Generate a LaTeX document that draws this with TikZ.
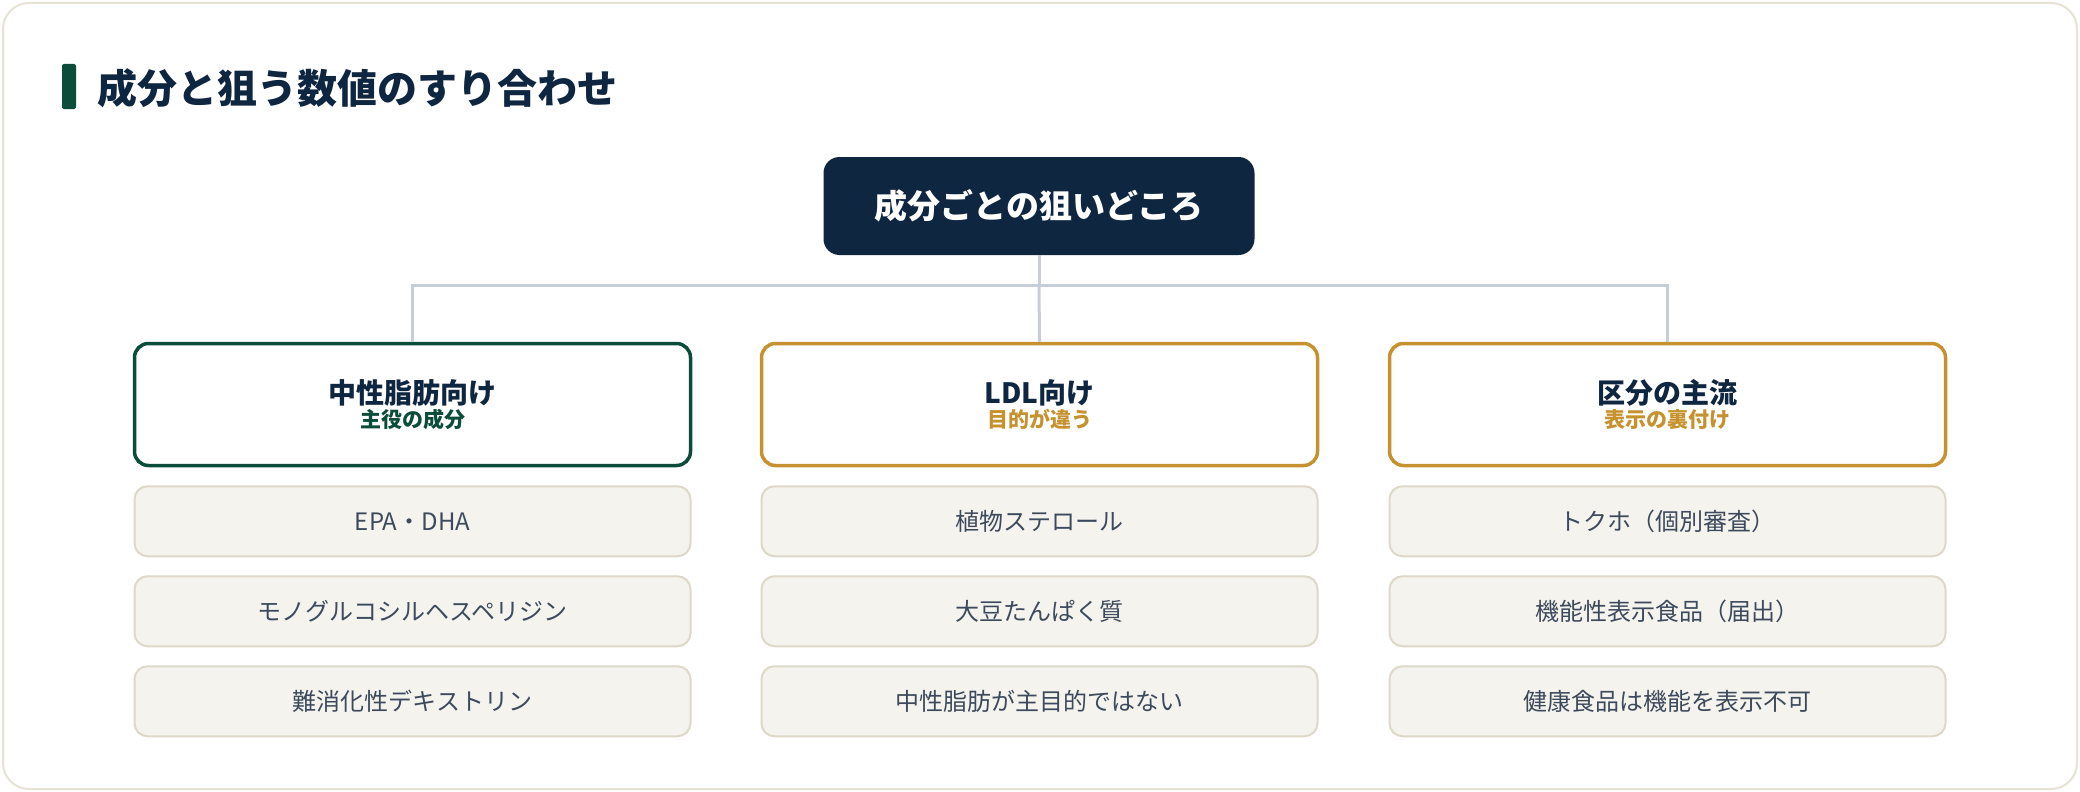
\documentclass[tikz,border=0pt]{standalone}
\usepackage{fontspec}
\setmainfont{Noto Sans CJK JP}
\usetikzlibrary{positioning}
\definecolor{navy}{HTML}{0F2640}
\definecolor{pine}{HTML}{0B4D3A}
\definecolor{gold}{HTML}{C69230}
\definecolor{itemfill}{HTML}{F5F3EE}
\definecolor{itemline}{HTML}{DDD8C8}
\definecolor{itemtext}{HTML}{3D4A5C}
\definecolor{wire}{HTML}{C8CED8}
\definecolor{frame}{HTML}{E6E3D6}
\begin{document}
\begin{tikzpicture}[x=1pt,y=-1pt,
    head/.style={draw=#1,line width=3.5pt,fill=white,rounded corners=14pt,
      minimum width=556pt,minimum height=122pt,align=center},
    item/.style={draw=itemline,line width=2pt,fill=itemfill,rounded corners=13pt,
      minimum width=556pt,minimum height=70pt,text=itemtext,font=\fontsize{24}{28}\selectfont},
    wireline/.style={draw=wire,line width=3pt}]
    \useasboundingbox (0,0) rectangle (2080,792);
    \draw[frame,line width=2pt,fill=white,rounded corners=26pt] (3,3) rectangle (2077,789);

    % title
    \fill[pine,rounded corners=2pt] (62,64) rectangle (76,109);
    \node[anchor=west,text=navy,font=\bfseries\fontsize{40}{46}\selectfont] (title) at (94,88) {成分と狙う数値のすり合わせ};

    % root
    \node[fill=navy,rounded corners=16pt,minimum width=431pt,minimum height=98pt,
      text=white,font=\bfseries\fontsize{33}{38}\selectfont] (root) at (1039,206) {成分ごとの狙いどころ};

    % headers
    \node[head=pine] (tg) at (412.5,404.5) {{\bfseries\fontsize{28}{34}\selectfont\color{navy}中性脂肪向け}\\[2pt]{\bfseries\fontsize{21}{26}\selectfont\color{pine}主役の成分}};
    \node[head=gold] (ldl) at (1039.5,404.5) {{\bfseries\fontsize{28}{34}\selectfont\color{navy}LDL向け}\\[2pt]{\bfseries\fontsize{21}{26}\selectfont\color{gold}目的が違う}};
    \node[head=gold] (kbn) at (1667.5,404.5) {{\bfseries\fontsize{28}{34}\selectfont\color{navy}区分の主流}\\[2pt]{\bfseries\fontsize{21}{26}\selectfont\color{gold}表示の裏付け}};

    \coordinate (hub) at (1039,285);
    \path[wireline] (root.south) -- (hub);
    \path[wireline] (tg.north) -- (tg.north |- hub) -- (kbn.north |- hub) -- (kbn.north);
    \path[wireline] (hub) -- (ldl.north);

    % items
    \node[item,below=18pt of tg] (tg1) {EPA・DHA};
    \node[item,below=18pt of tg1] (tg2) {モノグルコシルヘスペリジン};
    \node[item,below=18pt of tg2] (tg3) {難消化性デキストリン};

    \node[item,below=18pt of ldl] (ldl1) {植物ステロール};
    \node[item,below=18pt of ldl1] (ldl2) {大豆たんぱく質};
    \node[item,below=18pt of ldl2] (ldl3) {中性脂肪が主目的ではない};

    \node[item,below=18pt of kbn] (kbn1) {トクホ（個別審査）};
    \node[item,below=18pt of kbn1] (kbn2) {機能性表示食品（届出）};
    \node[item,below=18pt of kbn2] (kbn3) {健康食品は機能を表示不可};
\end{tikzpicture}
\end{document}
